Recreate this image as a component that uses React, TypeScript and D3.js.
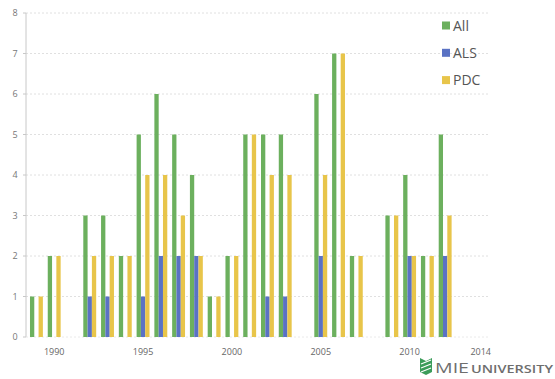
import React from "react";
import * as d3 from "d3";

const years = [1989, 1990, 1991, 1992, 1993, 1994, 1995, 1996, 1997, 1998, 1999, 2000, 2001, 2002, 2003, 2004, 2005, 2006, 2007, 2008, 2009, 2010, 2011, 2012, 2013];
const allValues = [1, 2, 0, 3, 3, 2, 5, 6, 5, 4, 1, 2, 5, 5, 5, 0, 6, 7, 2, 0, 3, 4, 2, 5, 0];
const alsValues = [0, 0, 0, 1, 1, 0, 1, 2, 2, 2, 0, 0, 0, 1, 1, 0, 2, 0, 0, 0, 0, 2, 0, 2, 0];
const pdcValues = [1, 2, 0, 2, 2, 2, 4, 4, 3, 2, 1, 2, 5, 4, 4, 0, 4, 7, 2, 0, 3, 2, 2, 3, 0];
const seriesNames = ["All", "ALS", "PDC"];
const xTickLabels = [1990, 1995, 2000, 2005, 2010, 2014];
const yTickLabels = [0, 1, 2, 3, 4, 5, 6, 7, 8];

const colors = ["#6cb05e", "#5a72c4", "#e8c54a"];

export default function App() {
  const W = 555, H = 379;
  const x = d3.scaleLinear().domain([1990, 2014]).range([54.2, 480.7]);
  const y = d3.scaleLinear().domain([0, 8]).range([337, 13]);
  const bw = 4.3;
  const series = [allValues, alsValues, pdcValues];
  const font = "'Open Sans', 'Noto Sans', sans-serif";

  return (
    <svg width={W} height={H} style={{ position: "absolute", left: 0, top: 0, background: "#fff" }}>
      <rect width={W} height={H} fill="#fff" />
      {yTickLabels.slice(1).map((t) => (
        <line key={"g" + t} x1={26} x2={488} y1={y(t)} y2={y(t)} stroke="#d8d8d8" strokeWidth={0.8} strokeDasharray="2,2" />
      ))}
      <line x1={26} x2={26} y1={y(8)} y2={y(0)} stroke="#c8c8c8" strokeWidth={1} />
      <line x1={26} x2={488} y1={y(0)} y2={y(0)} stroke="#e4e4e4" strokeWidth={0.8} strokeDasharray="2,2" />
      {yTickLabels.map((t) => (
        <g key={"y" + t}>
          <line x1={23} x2={26} y1={y(t)} y2={y(t)} stroke="#c8c8c8" />
          <text x={15} y={y(t)} dy="0.35em" textAnchor="middle" fontSize={9} fill="#777" fontFamily={font}>{t}</text>
        </g>
      ))}
      {xTickLabels.map((t) => (
        <text key={"x" + t} x={x(t)} y={355} textAnchor="middle" fontSize={9} fill="#666" fontFamily={font}>{t}</text>
      ))}
      {series.map((vals, si) =>
        vals.map((v, i) =>
          v > 0 ? (
            <rect
              key={si + "-" + i}
              x={x(years[i]) - 1.5 * bw + si * bw}
              y={y(v)}
              width={bw}
              height={y(0) - y(v)}
              fill={colors[si]}
            />
          ) : null
        )
      )}
      {seriesNames.map((n, i) => (
        <g key={n} transform={`translate(442, ${25.5 + i * 27.3})`}>
          <rect x={0} y={-4} width={8} height={8} fill={colors[i]} />
          <text x={11} y={0} dy="0.36em" fontSize={14} fill="#555" fontFamily={font}>{n}</text>
        </g>
      ))}
      <g>
        <path d="M420,358 L426,361 L432,358 L432,372 L426,375 L420,372 Z" fill="#3b9c5a" />
        <path d="M421,364 L431,360 M421,368 L431,364 M421,372 L431,368" stroke="#fff" strokeWidth={1.2} />
        <text x={435} y={373} fontSize={14} fill="#6e6e6e" fontFamily={font} fontWeight={400} textLength={34} lengthAdjust="spacingAndGlyphs">MIE</text>
        <text x={471} y={373} fontSize={10} fill="#6e6e6e" fontFamily={font} fontWeight={600} textLength={82} lengthAdjust="spacingAndGlyphs">UNIVERSITY</text>
      </g>
    </svg>
  );
}
